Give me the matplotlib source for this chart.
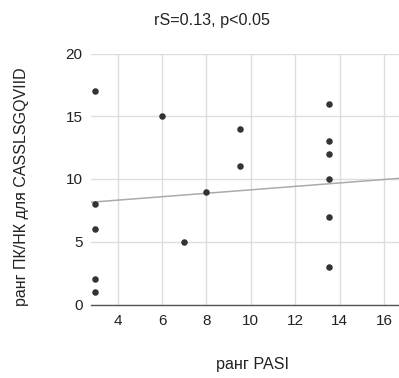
import matplotlib
matplotlib.use("Agg")
import matplotlib.pyplot as plt

plt.rcParams['font.family'] = ['Liberation Sans', 'DejaVu Sans']

# data
pasi_rank = [3, 3, 3, 3, 3, 6, 7, 8, 9.5, 9.5, 13.5, 13.5, 13.5, 13.5, 13.5, 13.5]
pk_nk_rank = [17, 8, 6, 2, 1, 15, 5, 9, 14, 11, 16, 13, 12, 10, 7, 3]
trend_x = [2.8, 16.65]
trend_y = [8.15, 10.05]
x_ticks = [4, 6, 8, 10, 12, 14, 16]
y_ticks = [0, 5, 10, 15, 20]
title = "rS=0.13, p<0.05"
x_label = "ранг PASI"
y_label = "ранг ПК/НК для CASSLSGQVIID"

W, H = 399, 378
fig = plt.figure(figsize=(W / 100, H / 100), dpi=100)
ax = fig.add_axes([91 / W, 1 - 304.5 / H, (398.5 - 91) / W, (304.5 - 53.5) / H])

ax.set_xlim(2.8, 16.65)
ax.set_ylim(0, 20)
ax.set_xticks(x_ticks)
ax.set_yticks(y_ticks)
ax.grid(True, color='#dddddd', linewidth=1)
ax.set_axisbelow(True)
for s in ['top', 'right', 'left']:
    ax.spines[s].set_visible(False)
ax.spines['bottom'].set_color('#555555')
ax.spines['bottom'].set_linewidth(1)
ax.tick_params(length=0, labelsize=11, colors='#222222')
ax.tick_params(axis='x', pad=7)
ax.tick_params(axis='y', pad=6)

ax.plot(trend_x, trend_y, color='#aaaaaa', linewidth=1.1, zorder=2)
ax.scatter(pasi_rank, pk_nk_rank, s=22, color='#333333', zorder=3, linewidths=0)

fig.text(212 / W, 1 - 20 / H, title, ha='center', va='center', fontsize=11.6, color='#222222')
fig.text(252 / W, 1 - 365 / H, x_label, ha='center', va='center', fontsize=11.6, color='#222222')
fig.text(22 / W, 1 - 187 / H, y_label, ha='center', va='center', rotation=90, fontsize=11.5, color='#222222')

fig.savefig('out.png', dpi=100)
